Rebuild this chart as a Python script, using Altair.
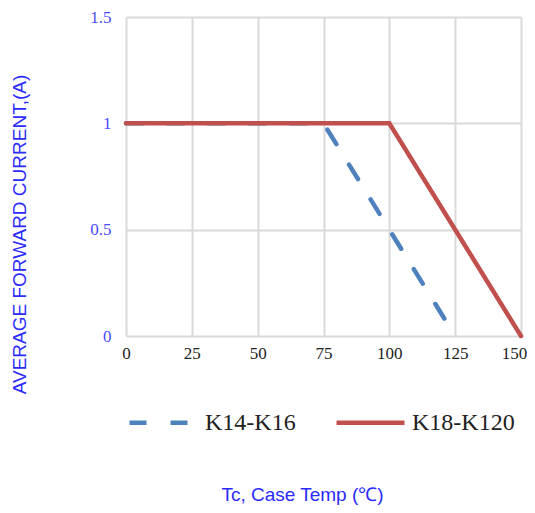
import altair as alt
import pandas as pd

series_names = ["K14-K16", "K18-K120"]
temp_k14 = [0, 75, 125]
current_k14 = [1, 1, 0]
temp_k18 = [0, 100, 150]
current_k18 = [1, 1, 0]

x_ticks = [0, 25, 50, 75, 100, 125, 150]
y_ticks = [0, 0.5, 1, 1.5]

rows = []
for t, c in zip(temp_k14, current_k14):
    rows.append({"series": series_names[0], "temp": t, "current": c})
for t, c in zip(temp_k18, current_k18):
    rows.append({"series": series_names[1], "temp": t, "current": c})
df = pd.DataFrame(rows)

BLUE_TXT = "#2B2BFF"

legend_cfg = dict(title=None, orient="none", direction="horizontal",
                  legendX=1, legendY=369,
                  symbolType="stroke", symbolSize=4624,
                  symbolStrokeWidth=4.5,
                  labelFont="Liberation Serif", labelFontSize=24,
                  labelColor="#222222", labelOffset=5,
                  columnPadding=31, labelLimit=300)

chart = alt.Chart(df).mark_line(strokeWidth=4.5, strokeCap="round").encode(
    x=alt.X("temp:Q",
            scale=alt.Scale(domain=[0, 150], nice=False),
            axis=alt.Axis(values=x_ticks, title="Tc, Case Temp (℃)",
                          titleX=176, titleY=164, titleAlign="center",
                          titleBaseline="alphabetic", titleColor=BLUE_TXT,
                          titleFont="Liberation Sans", titleFontSize=19,
                          titleFontWeight="normal",
                          labelFont="Liberation Serif", labelFontSize=17,
                          labelColor="#222222", labelPadding=9,
                          labelOffset={"expr": "datum.value == 150 ? -7 : 0"},
                          labelFlush=False)),
    y=alt.Y("current:Q",
            scale=alt.Scale(domain=[0, 1.5], nice=False),
            axis=alt.Axis(values=y_ticks, title="AVERAGE FORWARD CURRENT,(A)",
                          format="~g",
                          titleX=-116, titleY=217, titleAngle=270,
                          titleAlign="center", titleBaseline="top",
                          titleColor=BLUE_TXT, titleFont="Liberation Sans",
                          titleFontSize=19, titleFontWeight="normal",
                          labelFont="Liberation Serif", labelFontSize=17,
                          labelColor="#4B4BFF", labelPadding=15,
                          labelFlush=False)),
    color=alt.Color("series:N",
                    scale=alt.Scale(domain=series_names, range=["#4F81BD", "#C0504D"]),
                    legend=alt.Legend(**legend_cfg)),
    strokeDash=alt.StrokeDash("series:N",
                              scale=alt.Scale(domain=series_names, range=[[17, 24], [1, 0]]),
                              legend=alt.Legend(**legend_cfg)),
).properties(
    width=395, height=319,
    autosize=alt.AutoSizeParams(type="none"),
    padding={"left": 118, "top": 9, "right": 6, "bottom": 171},
).configure_axis(
    grid=True, gridColor="#D9D9D9", gridWidth=2, domain=False, ticks=False,
).configure_view(stroke=None)

chart.save("out.html", embed_options={"renderer": "svg", "actions": False})
